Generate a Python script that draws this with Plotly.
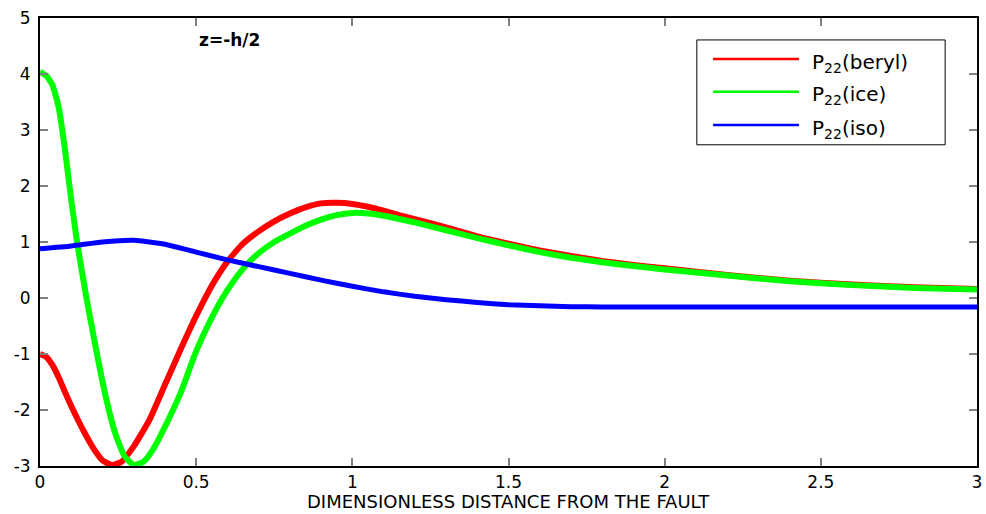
import plotly.graph_objects as go

x_beryl = [0, 0.02, 0.04, 0.06, 0.08, 0.1, 0.12, 0.14, 0.16, 0.18, 0.2, 0.23, 0.26, 0.3, 0.35, 0.4, 0.45,
           0.5, 0.55, 0.6, 0.65, 0.7, 0.75, 0.8, 0.85, 0.9, 0.95, 1.0, 1.05, 1.1, 1.15, 1.2, 1.3, 1.4,
           1.5, 1.6, 1.7, 1.8, 1.9, 2.0, 2.2, 2.4, 2.6, 2.8, 3.0]
y_beryl = [-1.0, -1.05, -1.2, -1.42, -1.68, -1.93, -2.16, -2.38, -2.58, -2.76, -2.9, -2.98, -2.93, -2.65, -2.18,
           -1.55, -0.92, -0.32, 0.22, 0.65, 0.97, 1.19, 1.37, 1.51, 1.62, 1.69, 1.70, 1.68, 1.63, 1.56, 1.48,
           1.41, 1.26, 1.10, 0.97, 0.85, 0.75, 0.66, 0.59, 0.53, 0.41, 0.31, 0.24, 0.19, 0.16]

x_ice = [0, 0.02, 0.04, 0.06, 0.08, 0.1, 0.12, 0.15, 0.18, 0.21, 0.24, 0.27, 0.3, 0.33, 0.36, 0.4, 0.45,
         0.5, 0.55, 0.6, 0.65, 0.7, 0.75, 0.8, 0.85, 0.9, 0.95, 1.0, 1.05, 1.1, 1.15, 1.2, 1.3, 1.4,
         1.5, 1.6, 1.7, 1.8, 1.9, 2.0, 2.2, 2.4, 2.6, 2.8, 3.0]
y_ice = [4.04, 3.97, 3.8, 3.4, 2.65, 1.75, 0.95, -0.04, -0.93, -1.75, -2.4, -2.82, -2.98, -2.93, -2.72, -2.3, -1.7,
         -0.95, -0.35, 0.14, 0.52, 0.80, 1.00, 1.15, 1.29, 1.40, 1.48, 1.52, 1.51, 1.47, 1.41, 1.35, 1.21, 1.07,
         0.94, 0.82, 0.72, 0.64, 0.57, 0.51, 0.40, 0.30, 0.23, 0.18, 0.15]

x_iso = [0, 0.1, 0.2, 0.3, 0.4, 0.5, 0.6, 0.7, 0.8, 0.9, 1.0, 1.1, 1.2, 1.3, 1.4, 1.5, 1.6, 1.7, 1.8, 2.0, 2.5, 3.0]
y_iso = [0.88, 0.93, 1.0, 1.03, 0.96, 0.82, 0.68, 0.56, 0.44, 0.32, 0.21, 0.11, 0.03, -0.03, -0.08, -0.12,
         -0.14, -0.155, -0.16, -0.16, -0.16, -0.16]

x_ticks = [0, 0.5, 1, 1.5, 2, 2.5, 3]
x_ticklabels = ["0", "0.5", "1", "1.5", "2", "2.5", "3"]
y_ticks = [-3, -2, -1, 0, 1, 2, 3, 4, 5]
y_ticklabels = ["-3", "-2", "-1", "0", "1", "2", "3", "4", "5"]

names = ["P<sub>22</sub>(beryl)", "P<sub>22</sub>(ice)", "P<sub>22</sub>(iso)"]
colors = ["#ff0000", "#00ff00", "#0000ff"]

FONT = "DejaVu Sans, Arial, Helvetica, sans-serif"

fig = go.Figure()
series = [(x_beryl, y_beryl), (x_ice, y_ice), (x_iso, y_iso)]
widths = [6, 6, 5]
for (xs, ys), c, w, n in zip(series, colors, widths, names):
    fig.add_trace(go.Scatter(x=xs, y=ys, mode="lines", name=n,
                             line=dict(color=c, width=w, shape="spline", smoothing=0.5),
                             showlegend=False, hoverinfo="skip"))

# manual legend (box, sample lines, labels) in paper coordinates
leg_x0, leg_x1, leg_y0, leg_y1 = 0.701, 0.966, 0.717, 0.951
line_x0, line_x1, text_x = 0.7183, 0.810, 0.8218
row_y = [0.9085, 0.8355, 0.761]
shapes = [dict(type="rect", xref="paper", yref="paper", x0=leg_x0, x1=leg_x1, y0=leg_y0, y1=leg_y1,
               line=dict(color="black", width=1), fillcolor="white", layer="above")]
annotations = []
for n, c, ry in zip(names, colors, row_y):
    shapes.append(dict(type="line", xref="paper", yref="paper", x0=line_x0, x1=line_x1, y0=ry, y1=ry,
                       line=dict(color=c, width=2.5), layer="above"))
    annotations.append(dict(text=n, xref="paper", yref="paper", x=text_x, y=ry - 0.008, showarrow=False,
                            xanchor="left", yanchor="middle", font=dict(family=FONT, size=20, color="black")))

annotations.append(dict(text="<b>z=-h/2</b>", x=0.608, y=4.61, xref="x", yref="y", showarrow=False,
                        xanchor="center", yanchor="middle", font=dict(family=FONT, size=17, color="black")))

# axis title as an annotation placed under the tick labels
annotations.append(dict(text="DIMENSIONLESS DISTANCE FROM THE FAULT", xref="paper", yref="paper",
                        x=0.5, y=-0.1049, xanchor="center", yanchor="bottom", showarrow=False,
                        borderpad=0, font=dict(family=FONT, size=18, color="black")))

axis_common = dict(showgrid=False, zeroline=False, showline=True, linecolor="black", linewidth=2,
                   mirror="allticks", ticks="inside", ticklen=8, tickcolor="#7f7f7f", tickwidth=1.5,
                   automargin=False, tickfont=dict(family=FONT, size=17, color="black"))

fig.update_layout(
    width=986, height=514,
    margin=dict(l=40, r=9, t=18, b=48),
    plot_bgcolor="white", paper_bgcolor="white",
    font=dict(family=FONT, size=17, color="black"),
    showlegend=False,
    xaxis=dict(range=[0, 3], tickvals=x_ticks, ticktext=x_ticklabels, ticklabelstandoff=0, **axis_common),
    yaxis=dict(range=[-3, 5], tickvals=y_ticks, ticktext=y_ticklabels, ticklabelstandoff=4, **axis_common),
    shapes=shapes,
    annotations=annotations,
)

fig.write_html("out.html")
